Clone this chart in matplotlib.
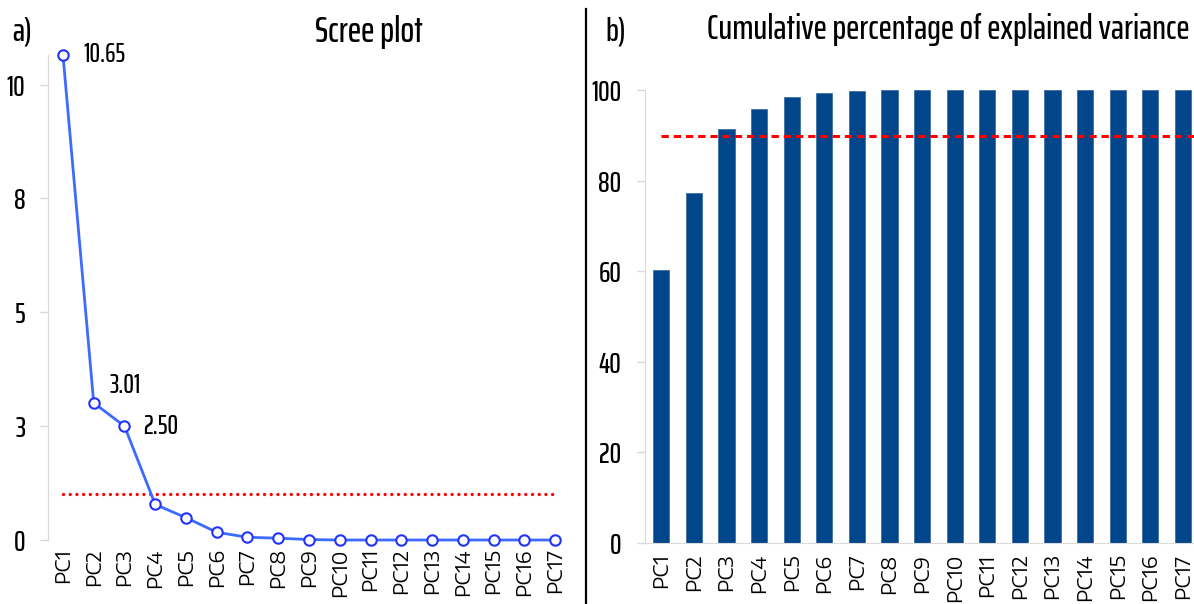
import numpy as np
import matplotlib
matplotlib.use("Agg")
import matplotlib.pyplot as plt
from matplotlib.lines import Line2D
from matplotlib.ticker import FuncFormatter

pcs = ["PC%d" % i for i in range(1, 18)]
eigenvalues = [10.65, 3.01, 2.50, 0.78, 0.49, 0.17, 0.06, 0.04, 0.01,
               0.0, 0.0, 0.0, 0.0, 0.0, 0.0, 0.0, 0.0]
cumulative = [60.2, 77.3, 91.4, 95.8, 98.6, 99.5, 99.9, 100, 100,
              100, 100, 100, 100, 100, 100, 100, 100]
labelled = [0, 1, 2]           # components whose eigenvalue is written next to the point
label_offsets = [(20, 0), (16, 17), (19, 0)]
kaiser = 1.0
target = 90

COND = "Saira ExtraCondensed"
TICKFONT = "Encode Sans Expanded"
GRID = "#d9d9d9"

W, H = 1194, 604
fig = plt.figure(figsize=(W / 100, H / 100), dpi=100)

def box(x0, y0, x1, y1):
    # pixel box (top-left origin) -> figure fraction rect
    return [x0 / W, 1 - y1 / H, (x1 - x0) / W, (y1 - y0) / H]

x = np.arange(len(pcs))

# ---- a) scree plot
ax1 = fig.add_axes(box(47.6, 55, 570.4, 540))
ax1.plot(x, eigenvalues, color="#3d6bff", lw=2, marker="o", ms=7.5,
         mfc="white", mec="#2233ff", mew=1.5, clip_on=False, zorder=3)
ax1.plot([x[0], x[-1]], [kaiser, kaiser], color="red", lw=2.4,
         ls=(0, (0.01, 2.0)), dash_capstyle="round", zorder=2)
for i, (dx, dy) in zip(labelled, label_offsets):
    ax1.annotate("%.2f" % eigenvalues[i], (x[i], eigenvalues[i]),
                 xytext=(dx, dy), textcoords="offset pixels",
                 ha="left", va="center", fontsize=19, family=COND, weight="medium")
ax1.set_xlim(-0.5, 16.5)
ax1.set_ylim(0, 10.65)
ax1.set_yticks([0, 2.5, 5, 7.5, 10])
ax1.yaxis.set_major_formatter(FuncFormatter(lambda v, p: "%d" % int(np.floor(v + 0.5))))
ax1.set_xticks(x)
ax1.set_xticklabels(pcs, rotation=90, family=TICKFONT, fontsize=14)
ax1.tick_params(axis="x", length=0, pad=6)
ax1.tick_params(axis="y", length=6, width=1, color=GRID, pad=10)
for lab in ax1.get_yticklabels():
    lab.set_family(COND)
    lab.set_fontsize(21)
    lab.set_weight("medium")
for s in ("top", "right", "bottom"):
    ax1.spines[s].set_visible(False)
ax1.spines["left"].set_color(GRID)

# ---- b) cumulative explained variance
ax2 = fig.add_axes(box(645, 90.3, 1194, 542.5))
ax2.bar(x, cumulative, width=0.5, color="#01458a", edgecolor="#3f6fa8", lw=0.6)
ax2.hlines(target, 0, 16.34, color="red", lw=2.2, ls=(0, (2.4, 1.6)), zorder=3)
ax2.set_xlim(-0.5, 16.34)
ax2.set_ylim(0, 100)
ax2.set_yticks(range(0, 101, 20))
ax2.set_xticks(x)
ax2.set_xticklabels(pcs, rotation=90, family=TICKFONT, fontsize=14)
ax2.tick_params(axis="x", length=0, pad=8)
ax2.tick_params(axis="y", length=6, width=1, color=GRID, pad=11)
for lab in ax2.get_yticklabels():
    lab.set_family(COND)
    lab.set_fontsize(21)
    lab.set_weight("medium")
for s in ("top", "right"):
    ax2.spines[s].set_visible(False)
ax2.spines["left"].set_color(GRID)
ax2.spines["bottom"].set_color(GRID)

# panel letters, titles and the divider
fig.text(12 / W, 1 - 32 / H, "a)", family=COND, weight="medium", fontsize=24, va="center", ha="left")
fig.text(369 / W, 1 - 32 / H, "Scree plot", family=COND, weight="medium",
         fontsize=26, va="center", ha="center")
fig.text(605 / W, 1 - 32 / H, "b)", family=COND, weight="medium", fontsize=24, va="center", ha="left")
fig.text(948 / W, 1 - 30 / H, "Cumulative percentage of explained variance",
         family=COND, weight="medium", fontsize=25.5, va="center", ha="center")
fig.add_artist(Line2D([586 / W, 586 / W], [0, 1 - 9 / H], color="black", lw=1.6))

fig.savefig("out.png", dpi=100)
